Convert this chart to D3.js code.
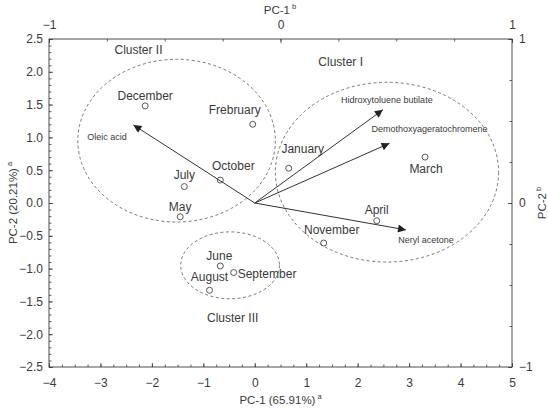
<!DOCTYPE html>
<html><head><meta charset="utf-8">
<script src="https://cdn.jsdelivr.net/npm/d3@7"></script>
<style>
html,body{margin:0;padding:0;background:#fff;}
svg{display:block;font-family:"Liberation Sans",Arial,sans-serif;}
</style></head>
<body><svg id="c" width="548" height="408"></svg>
<script>
// ---- data ----
const months = ["December","Frebruary","October","July","May","January","March","April","November","June","September","August"];
const pc1 = [-2.13,-0.04,-0.67,-1.37,-1.45,0.66,3.31,2.37,1.34,-0.67,-0.41,-0.88];
const pc2 = [1.48,1.20,0.35,0.25,-0.21,0.53,0.70,-0.27,-0.61,-0.96,-1.06,-1.33];

const variables = ["Oleic acid","Hidroxytoluene butilate","Demothoxyageratochromene","Neryl acetone"];
const loadX = [-2.36,2.49,2.62,2.94];
const loadY = [1.19,1.42,0.91,-0.41];

const clusters = ["Cluster I","Cluster II","Cluster III"];
const clusterCx = [2.57,-1.52,-0.48];
const clusterCy = [0.47,0.95,-0.95];
const clusterRx = [2.17,1.92,0.96];
const clusterRy = [1.37,1.24,0.51];
const clusterLabelX = [1.67,-2.26,-0.43];
const clusterLabelY = [2.09,2.27,-1.81];

const bottomTicks = [-4,-3,-2,-1,0,1,2,3,4,5];
const leftTicks = [-2.5,-2.0,-1.5,-1.0,-0.5,0.0,0.5,1.0,1.5,2.0,2.5];
const topTicks = [-1,0,1];
const rightTicks = [-1,0,1];

// ---- layout ----
const L=49,R=512,T=39,B=367;
const svg=d3.select("#c");
const x=d3.scaleLinear().domain([-4,5]).range([L,R]);
const y=d3.scaleLinear().domain([-2.5,2.5]).range([B,T]);
const xt=d3.scaleLinear().domain([-1,1]).range([L,R]);
const yr=d3.scaleLinear().domain([-1,1]).range([B,T]);
const txt="#3a3a3a", ln="#3a3a3a";

function styleAxis(g,fs){
  g.select(".domain").remove();
  g.selectAll("line").attr("stroke",ln).attr("stroke-width",0.8);
  g.selectAll("text").attr("fill",txt).style("font-size",fs+"px").style("font-family","Liberation Sans, Arial, sans-serif");
}
const fmt1=d3.format(".1f"), fmt0=d3.format("d");
// minor ticks
const minorB=d3.range(-4,5.001,0.25);
const minorL=d3.range(-2.5,2.5001,0.1);
const minorT=d3.range(-1,1.001,0.25);
svg.append("g").attr("transform",`translate(0,${B})`).call(d3.axisBottom(x).tickValues(minorB).tickSize(-2.5).tickFormat("")).call(g=>styleAxis(g,12));
svg.append("g").attr("transform",`translate(${L},0)`).call(d3.axisLeft(y).tickValues(minorL).tickSize(-2.5).tickFormat("")).call(g=>styleAxis(g,12));
svg.append("g").attr("transform",`translate(0,${T})`).call(d3.axisTop(xt).tickValues(minorT).tickSize(-2.5).tickFormat("")).call(g=>styleAxis(g,12));
svg.append("g").attr("transform",`translate(${R},0)`).call(d3.axisRight(yr).tickValues(minorT).tickSize(-2.5).tickFormat("")).call(g=>styleAxis(g,12));
// major ticks
svg.append("g").attr("transform",`translate(0,${B})`).call(d3.axisBottom(x).tickValues(bottomTicks).tickSize(-4).tickPadding(11).tickFormat(fmt0)).call(g=>styleAxis(g,12));
svg.append("g").attr("transform",`translate(${L},0)`).call(d3.axisLeft(y).tickValues(leftTicks).tickSize(-4).tickPadding(6).tickFormat(fmt1)).call(g=>styleAxis(g,12));
svg.append("g").attr("transform",`translate(0,${T})`).call(d3.axisTop(xt).tickValues(topTicks).tickSize(-4).tickPadding(10).tickFormat(fmt0)).call(g=>styleAxis(g,12));
svg.append("g").attr("transform",`translate(${R},0)`).call(d3.axisRight(yr).tickValues(rightTicks).tickSize(-4).tickPadding(7).tickFormat(fmt0)).call(g=>styleAxis(g,12));

// frame
svg.append("rect").attr("x",L).attr("y",T).attr("width",R-L).attr("height",B-T)
  .attr("fill","none").attr("stroke",ln).attr("stroke-width",0.9);

// axis titles
function title(xp,yp,main,sup,rot){
  const t=svg.append("text").attr("fill",txt).style("font-size","11.5px").attr("text-anchor","middle")
    .attr("transform",`translate(${xp},${yp})`+(rot?` rotate(${rot})`:""));
  t.append("tspan").text(main);
  t.append("tspan").attr("dy",-5).attr("dx",2).style("font-size","7.5px").text(sup);
}
title((L+R)/2,404,"PC-1 (65.91%)","a",0);
title(280,14,"PC-1","b",0);
title(17,203,"PC-2 (20.21%)","a",-90);
title(546,203,"PC-2","b",-90);

// cluster ellipses
svg.append("g").selectAll("ellipse").data(clusters).join("ellipse")
  .attr("cx",(d,i)=>x(clusterCx[i])).attr("cy",(d,i)=>y(clusterCy[i]))
  .attr("rx",(d,i)=>x(clusterRx[i])-x(0)).attr("ry",(d,i)=>y(0)-y(clusterRy[i]))
  .attr("fill","none").attr("stroke","#555").attr("stroke-width",0.8).attr("stroke-dasharray","3,2.5");
svg.append("g").selectAll("text").data(clusters).join("text")
  .attr("x",(d,i)=>x(clusterLabelX[i])).attr("y",(d,i)=>y(clusterLabelY[i]))
  .attr("text-anchor","middle").attr("fill",txt).style("font-size","12px").text(d=>d);

// arrows
svg.append("defs").append("marker").attr("id","ah").attr("viewBox","0 0 10 10")
  .attr("refX",10).attr("refY",5).attr("markerWidth",10).attr("markerHeight",8)
  .attr("markerUnits","userSpaceOnUse").attr("orient","auto")
  .append("path").attr("d","M0,0L10,5L0,10Z").attr("fill","#222");
svg.append("g").selectAll("line").data(variables).join("line")
  .attr("x1",x(0)).attr("y1",y(0))
  .attr("x2",(d,i)=>x(loadX[i])).attr("y2",(d,i)=>y(loadY[i]))
  .attr("stroke","#333").attr("stroke-width",1).attr("marker-end","url(#ah)");
// variable labels (offsets from arrow tip, px)
const varOff=[[-46,15,"start"],[4,-7,"middle"],[40,-11,"middle"],[20,13,"middle"]];
svg.append("g").selectAll("text").data(variables).join("text")
  .attr("x",(d,i)=>x(loadX[i])+varOff[i][0]).attr("y",(d,i)=>y(loadY[i])+varOff[i][1])
  .attr("text-anchor",(d,i)=>varOff[i][2]).attr("fill",txt).style("font-size","9px").text(d=>d);

// points
svg.append("g").selectAll("circle").data(months).join("circle")
  .attr("cx",(d,i)=>x(pc1[i])).attr("cy",(d,i)=>y(pc2[i])).attr("r",3)
  .attr("fill","none").attr("stroke","#444").attr("stroke-width",0.9);
const monOff=[[0,-6,"middle"],[-18,-10,"middle"],[13,-10,"middle"],[0,-8,"middle"],[0,-6,"middle"],[14,-15,"middle"],[1,16,"middle"],[0,-7,"middle"],[8,-9,"middle"],[-1,-6,"middle"],[4,5,"start"],[0,-9,"middle"]];
svg.append("g").selectAll("text").data(months).join("text")
  .attr("x",(d,i)=>x(pc1[i])+monOff[i][0]).attr("y",(d,i)=>y(pc2[i])+monOff[i][1])
  .attr("text-anchor",(d,i)=>monOff[i][2]).attr("fill",txt).style("font-size","12px").text(d=>d);
</script></body></html>
